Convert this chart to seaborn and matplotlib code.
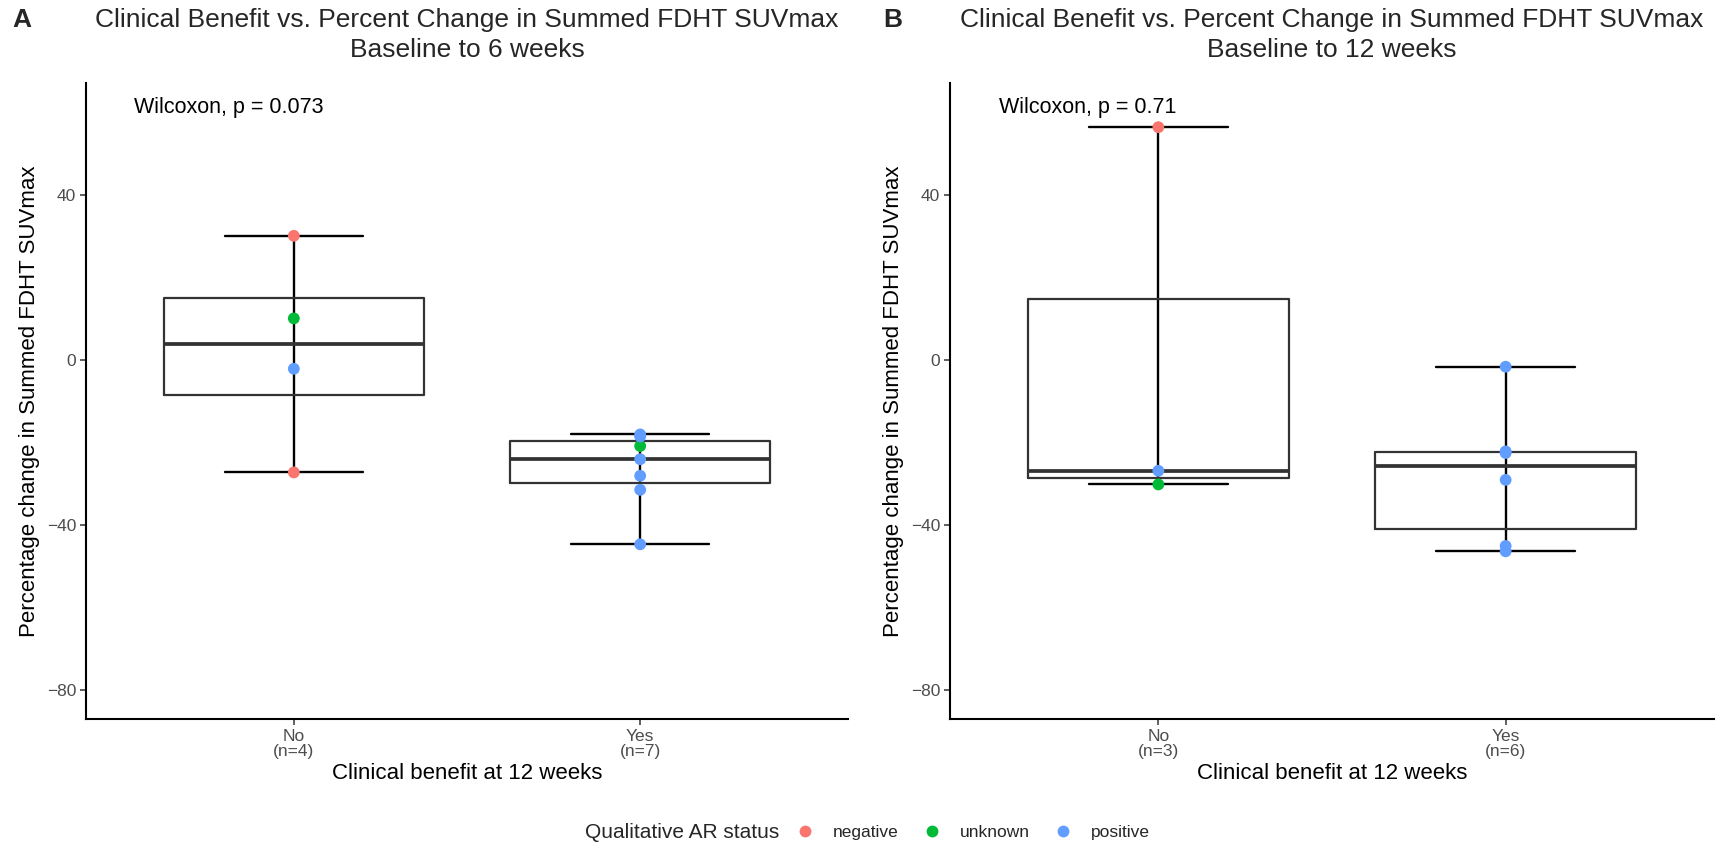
import numpy as np
import pandas as pd
import matplotlib
matplotlib.use("Agg")
import matplotlib.pyplot as plt
from matplotlib.lines import Line2D
import seaborn as sns

# ---------------- data ----------------
benefit_levels = ["No", "Yes"]
status_levels = ["negative", "unknown", "positive"]
status_colors = ["#F8766D", "#00BA38", "#619CFF"]

wk6_no_vals = [30.0, 10.0, -2.2, -27.3]
wk6_no_status = ["negative", "unknown", "positive", "negative"]
wk6_yes_vals = [-20.9, -18.1, -18.6, -24.1, -28.1, -31.5, -44.7]
wk6_yes_status = ["unknown", "positive", "positive", "positive", "positive", "positive", "positive"]

wk12_no_vals = [56.3, -26.9, -30.2]
wk12_no_status = ["negative", "positive", "unknown"]
wk12_yes_vals = [-1.7, -22.2, -22.6, -29.1, -45.1, -46.4]
wk12_yes_status = ["positive"] * 6

titles = ["Clinical Benefit vs. Percent Change in Summed FDHT SUVmax\nBaseline to 6 weeks",
          "Clinical Benefit vs. Percent Change in Summed FDHT SUVmax\nBaseline to 12 weeks"]
pvals = ["Wilcoxon, p = 0.073", "Wilcoxon, p = 0.71"]
panel_tags = ["A", "B"]
y_ticks = [-80, -40, 0, 40]


def make_df(no_v, no_s, yes_v, yes_s):
    lab_no = f"No\n(n={len(no_v)})"
    lab_yes = f"Yes\n(n={len(yes_v)})"
    df = pd.DataFrame({
        "benefit": [lab_no] * len(no_v) + [lab_yes] * len(yes_v),
        "value": list(no_v) + list(yes_v),
        "status": list(no_s) + list(yes_s),
    })
    return df, [lab_no, lab_yes]


dfs = [make_df(wk6_no_vals, wk6_no_status, wk6_yes_vals, wk6_yes_status),
       make_df(wk12_no_vals, wk12_no_status, wk12_yes_vals, wk12_yes_status)]

# ---------------- style ----------------
sns.set_theme(style="ticks")
plt.rcParams["font.family"] = ["Liberation Sans", "DejaVu Sans"]

W, H = 1732, 848
fig = plt.figure(figsize=(W / 100, H / 100), dpi=100)

axes_px = [(86, 848), (950, 1714)]
top_px, bot_px = 83, 719
tag_x = [22, 893]

palette = dict(zip(status_levels, status_colors))

for i, ((df, order), (x0, x1)) in enumerate(zip(dfs, axes_px)):
    ax = fig.add_axes([x0 / W, 1 - bot_px / H, (x1 - x0) / W, (bot_px - top_px) / H])

    # error bar (min-max) with caps
    sns.pointplot(data=df, x="benefit", y="value", order=order, estimator="median",
                  errorbar=("pi", 100), capsize=0.4, linestyle="none", marker="",
                  color="black", err_kws={"linewidth": 1.7}, ax=ax, zorder=1)
    # box
    sns.boxplot(data=df, x="benefit", y="value", order=order, width=0.75, fill=False,
                color="#333333", linewidth=1.6, whis=(0, 100), showcaps=False,
                showfliers=False, whiskerprops={"linewidth": 0},
                medianprops={"linewidth": 2.7, "color": "#333333"}, ax=ax)
    # points
    sns.stripplot(data=df, x="benefit", y="value", order=order, hue="status",
                  hue_order=status_levels, palette=palette, jitter=False, size=8.5,
                  linewidth=0, legend=False, ax=ax, zorder=5)

    ax.set_xlim(-0.6, 1.6)
    ax.set_ylim(-87, 67)
    ax.set_yticks(y_ticks)
    ax.set_yticklabels([str(t).replace("-", "\u2212") for t in y_ticks])
    ax.tick_params(axis="both", colors="#333333", labelcolor="#4D4D4D", labelsize=12.5,
                   length=4, width=1.1, pad=3)
    for lab in ax.get_xticklabels():
        lab.set_linespacing(1.05)
    for side in ["top", "right"]:
        ax.spines[side].set_visible(False)
    for side in ["left", "bottom"]:
        ax.spines[side].set_linewidth(1.5)
        ax.spines[side].set_color("black")
    ax.set_xlabel("Clinical benefit at 12 weeks", fontsize=16, color="black", labelpad=3)
    ax.set_ylabel("Percentage change in Summed FDHT SUVmax", fontsize=16, color="black",
                  labelpad=5)
    ax.text(-0.46, 61, pvals[i], ha="left", va="center", fontsize=15.5, color="black")

    cx = (x0 + x1) / 2
    l1, l2 = titles[i].split("\n")
    fig.text(cx / W, 1 - 20 / H, l1, ha="center", va="center", fontsize=19)
    fig.text(cx / W, 1 - 50 / H, l2, ha="center", va="center", fontsize=19)
    fig.text(tag_x[i] / W, 1 - 20 / H, panel_tags[i], ha="center", va="center",
             fontsize=19, fontweight="bold")

# legend
leg_y = 1 - 832 / H
fig.text(779 / W, leg_y, "Qualitative AR status", ha="right", va="center", fontsize=15)
handles = [Line2D([], [], linestyle="none", marker="o", markersize=8.5,
                  markerfacecolor=c, markeredgewidth=0) for c in status_colors]
fig.legend(handles, status_levels, loc="center left", bbox_to_anchor=(795 / W, leg_y),
           ncol=3, frameon=False, fontsize=12.5, handlelength=1.2, handletextpad=1.0,
           columnspacing=1.3, borderpad=0, borderaxespad=0)

fig.savefig("out.png", dpi=100)
